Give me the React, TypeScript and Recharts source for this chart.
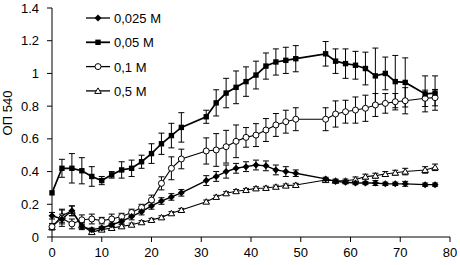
import { LineChart, Line, XAxis, YAxis, ErrorBar } from "recharts";

const FONT = '"Liberation Sans", Arial, sans-serif';

const minutes = [0, 2, 4, 6, 8, 10, 12, 14, 16, 18, 20, 22, 24, 26, 31, 33, 35, 37, 39, 41, 43, 45, 47, 49, 55, 57, 59, 61, 63, 65, 67, 69, 71, 75, 77];

const m0025 = [0.13, 0.11, 0.16, 0.065, 0.045, 0.055, 0.075, 0.095, 0.125, 0.155, 0.19, 0.22, 0.245, 0.27, 0.345, 0.37, 0.4, 0.42, 0.43, 0.44, 0.435, 0.41, 0.4, 0.39, 0.355, 0.34, 0.335, 0.33, 0.33, 0.33, 0.325, 0.325, 0.325, 0.32, 0.32];
const e0025 = [0.02, 0.03, 0.03, 0.02, 0.01, 0.01, 0.01, 0.015, 0.02, 0.02, 0.02, 0.02, 0.02, 0.02, 0.03, 0.03, 0.04, 0.03, 0.03, 0.03, 0.03, 0.03, 0.03, 0.02, 0.01, 0.01, 0.01, 0.01, 0.01, 0.015, 0.01, 0.01, 0.015, 0.01, 0.01];

const m005 = [0.27, 0.42, 0.42, 0.405, 0.37, 0.345, 0.38, 0.41, 0.42, 0.46, 0.51, 0.57, 0.62, 0.67, 0.735, 0.82, 0.88, 0.915, 0.95, 0.99, 1.045, 1.07, 1.08, 1.09, 1.12, 1.075, 1.06, 1.05, 1.03, 0.985, 1.0, 0.95, 0.945, 0.875, 0.88];
const e005 = [0, 0.055, 0.09, 0.08, 0.06, 0.025, 0.02, 0.05, 0.05, 0.04, 0.06, 0.065, 0.075, 0.09, 0.04, 0.08, 0.09, 0.1, 0.09, 0.085, 0.08, 0.08, 0.08, 0.08, 0.075, 0.075, 0.09, 0.085, 0.1, 0.17, 0.1, 0.16, 0.15, 0.11, 0.105];

const m01 = [0.063, 0.115, 0.08, 0.105, 0.11, 0.1, 0.11, 0.125, 0.15, 0.18, 0.226, 0.328, 0.42, 0.477, 0.526, 0.532, 0.552, 0.585, 0.609, 0.623, 0.654, 0.685, 0.705, 0.72, 0.72, 0.752, 0.766, 0.776, 0.787, 0.807, 0.817, 0.827, 0.833, 0.848, 0.852];
const e01 = [0.02, 0.05, 0.03, 0.03, 0.03, 0.02, 0.03, 0.02, 0.02, 0.02, 0.03, 0.04, 0.07, 0.06, 0.08, 0.1, 0.1, 0.1, 0.06, 0.07, 0.07, 0.07, 0.07, 0.07, 0.07, 0.08, 0.07, 0.08, 0.08, 0.07, 0.06, 0.05, 0.08, 0.05, 0.05];

const m05 = [0.06, 0.13, 0.16, 0.07, 0.03, 0.045, 0.055, 0.065, 0.075, 0.09, 0.104, 0.12, 0.145, 0.165, 0.216, 0.245, 0.267, 0.28, 0.287, 0.297, 0.3, 0.307, 0.314, 0.318, 0.348, 0.344, 0.344, 0.352, 0.369, 0.375, 0.385, 0.393, 0.4, 0.41, 0.426];
const e05 = [0.01, 0.04, 0.03, 0.02, 0.01, 0.01, 0.01, 0.01, 0.01, 0.01, 0.01, 0.01, 0.01, 0.01, 0.01, 0.01, 0.01, 0.01, 0.01, 0.01, 0.01, 0.01, 0.01, 0.01, 0.01, 0.01, 0.01, 0.015, 0.015, 0.015, 0.015, 0.015, 0.02, 0.02, 0.02];

const xTicks = [0, 10, 20, 30, 40, 50, 60, 70, 80];
const yTicks = [0, 0.2, 0.4, 0.6, 0.8, 1, 1.2, 1.4];

const legendLabels = ["0,025 M", "0,05 M", "0,1 M", "0,5 M"];

const rows = minutes.map((t, i) => ({
  t,
  a: m0025[i], ea: e0025[i],
  b: m005[i], eb: e005[i],
  c: m01[i], ec: e01[i],
  d: m05[i], ed: e05[i],
}));

type Shape = "diamond" | "square" | "circle" | "triangle";

function Marker({ shape, x, y }: { shape: Shape; x: number; y: number }) {
  if (shape === "diamond")
    return <polygon points={`${x},${y - 3.5} ${x + 3.5},${y} ${x},${y + 3.5} ${x - 3.5},${y}`} fill="#000" />;
  if (shape === "square")
    return <rect x={x - 2.7} y={y - 2.7} width={5.4} height={5.4} fill="#000" />;
  if (shape === "circle")
    return <circle cx={x} cy={y} r={3} fill="#fff" stroke="#000" strokeWidth={1} />;
  return <polygon points={`${x},${y - 3} ${x + 3.3},${y + 2.5} ${x - 3.3},${y + 2.5}`} fill="#fff" stroke="#000" strokeWidth={1} />;
}

const dotFor = (shape: Shape) => (p: any) => {
  if (p.cx == null || p.cy == null) return <g key={p.key ?? p.index} />;
  return (
    <g key={p.key ?? `${shape}-${p.index}`}>
      <Marker shape={shape} x={p.cx} y={p.cy} />
    </g>
  );
};

const shapes: Shape[] = ["diamond", "square", "circle", "triangle"];

function YLabel() {
  return (
    <text transform="translate(12,113) rotate(-90)" textAnchor="middle" fontSize={13} fontFamily={FONT} fill="#000">
      ОП 540
    </text>
  );
}

export default function App() {
  return (
    <div style={{ position: "relative", width: 460, height: 265, fontFamily: FONT }}>
      <style>{`body{margin:0;}`}</style>
      <LineChart width={460} height={265} data={rows} margin={{ top: 8, right: 10, bottom: 0, left: 12 }}>
        <XAxis
          dataKey="t"
          type="number"
          domain={[0, 80]}
          ticks={xTicks}
          height={28}
          stroke="#000"
          tickSize={5}
          tickMargin={6}
          tick={{ fill: "#000", fontSize: 13, fontFamily: FONT }}
        />
        <YAxis
          type="number"
          domain={[0, 1.4]}
          ticks={yTicks}
          width={40}
          stroke="#000"
          tickSize={5}
          tickMargin={8}
          tick={{ fill: "#000", fontSize: 13, fontFamily: FONT }}
          label={<YLabel />}
        />
        <Line dataKey="d" stroke="#000" strokeWidth={1.1} dot={dotFor("triangle")} isAnimationActive={false}>
          <ErrorBar dataKey="ed" width={3} stroke="#000" strokeWidth={1} direction="y" />
        </Line>
        <Line dataKey="c" stroke="#000" strokeWidth={1.1} dot={dotFor("circle")} isAnimationActive={false}>
          <ErrorBar dataKey="ec" width={3} stroke="#000" strokeWidth={1} direction="y" />
        </Line>
        <Line dataKey="a" stroke="#000" strokeWidth={1.4} dot={dotFor("diamond")} isAnimationActive={false}>
          <ErrorBar dataKey="ea" width={3} stroke="#000" strokeWidth={1} direction="y" />
        </Line>
        <Line dataKey="b" stroke="#000" strokeWidth={1.7} dot={dotFor("square")} isAnimationActive={false}>
          <ErrorBar dataKey="eb" width={3} stroke="#000" strokeWidth={1} direction="y" />
        </Line>
      </LineChart>
      <svg width={120} height={100} style={{ position: "absolute", left: 80, top: 6 }}>
        {legendLabels.map((lab, i) => {
          const y = 12 + i * 24.3;
          return (
            <g key={lab}>
              <line x1={6} x2={30} y1={y} y2={y} stroke="#000" strokeWidth={i === 1 ? 1.8 : 1.3} />
              <Marker shape={shapes[i]} x={18} y={y} />
              <text x={34} y={y + 5} fontSize={13} fontFamily={FONT} fill="#000">{lab}</text>
            </g>
          );
        })}
      </svg>
    </div>
  );
}
